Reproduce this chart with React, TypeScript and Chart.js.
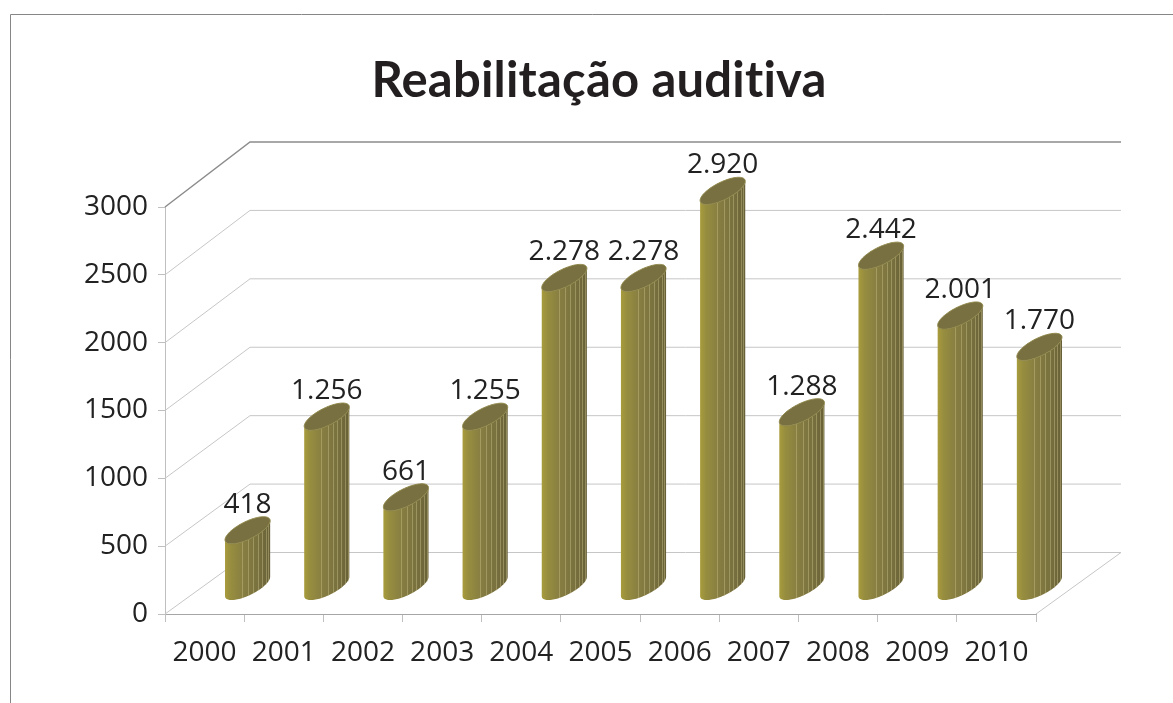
import { useEffect, useRef } from 'react';
import { Chart, registerables } from 'chart.js';

Chart.register(...registerables);

const TITLE = 'Reabilitação auditiva';
const YEARS = ['2000', '2001', '2002', '2003', '2004', '2005', '2006', '2007', '2008', '2009', '2010'];
const VALUES = [418, 1256, 661, 1255, 2278, 2278, 2920, 1288, 2442, 2001, 1770];
const Y_MIN = 0;
const Y_MAX = 3000;
const Y_STEP = 500;

const fmt = (v: number) =>
  v >= 1000 ? `${Math.floor(v / 1000)}.${String(v % 1000).padStart(3, '0')}` : String(v);

const DEPTH_X = 85;
const BACK_TOP_DY = -65;
const BACK_BOT_DY = -61.5;
const BAR_DX = 43;
const BAR_DY = -27;
const STRIPES = [0.38, 0.52, 0.63, 0.73, 0.82, 0.9, 0.96];

function drawCylinder(ctx: CanvasRenderingContext2D, cx: number, yTop: number, yBot: number, S: number) {
  const r = S / Math.SQRT2;
  const p = S / Math.SQRT2;
  const q = p * 0.85;
  const ts = Math.atan2(p, r);
  const pt = (t: number, y0: number): [number, number] => [
    cx + r * Math.cos(t) + p * Math.sin(t),
    y0 - q * Math.sin(t),
  ];
  const N = 48;
  ctx.beginPath();
  for (let i = 0; i <= N; i++) {
    const [x, y] = pt(Math.PI + ts + (Math.PI * i) / N, yTop);
    if (i === 0) ctx.moveTo(x, y);
    else ctx.lineTo(x, y);
  }
  for (let i = N; i >= 0; i--) {
    const [x, y] = pt(Math.PI + ts + (Math.PI * i) / N, yBot);
    ctx.lineTo(x, y);
  }
  ctx.closePath();
  const g = ctx.createLinearGradient(cx - S, 0, cx + S, 0);
  g.addColorStop(0, '#a89c3c');
  g.addColorStop(0.12, '#988e3f');
  g.addColorStop(0.4, '#877e42');
  g.addColorStop(0.75, '#78703e');
  g.addColorStop(1, '#676037');
  ctx.fillStyle = g;
  ctx.fill();
  ctx.strokeStyle = 'rgba(205,195,140,0.42)';
  ctx.lineWidth = 1;
  for (const u of STRIPES) {
    const phi = 2 * Math.PI - Math.acos(2 * u - 1);
    const t = phi + ts;
    const [x1, y1] = pt(t, yTop);
    const [, y2] = pt(t, yBot);
    ctx.beginPath();
    ctx.moveTo(Math.round(x1) + 0.5, y1);
    ctx.lineTo(Math.round(x1) + 0.5, y2);
    ctx.stroke();
  }
  ctx.beginPath();
  for (let i = 0; i <= 2 * N; i++) {
    const [x, y] = pt((Math.PI * i) / N, yTop);
    if (i === 0) ctx.moveTo(x, y);
    else ctx.lineTo(x, y);
  }
  ctx.closePath();
  ctx.fillStyle = '#787040';
  ctx.fill();
  ctx.strokeStyle = '#8e8648';
  ctx.lineWidth = 1;
  ctx.stroke();
}

const scene3d = {
  id: 'scene3d',
  beforeDatasetsDraw(chart: any) {
    const { ctx, chartArea } = chart;
    const { left, right, top, bottom } = chartArea;
    const ys = chart.scales.y;
    const backTop = top + BACK_TOP_DY;
    const backBot = bottom + BACK_BOT_DY;
    ctx.save();
    for (const t of ys.ticks) {
      const fy = ys.getPixelForValue(t.value);
      const by = backTop + ((fy - top) / (bottom - top)) * (backBot - backTop);
      const isTop = t.value === Y_MAX;
      ctx.strokeStyle = isTop ? '#8c8c8c' : '#c6c6c6';
      ctx.lineWidth = isTop ? 1.5 : 1;
      ctx.beginPath();
      ctx.moveTo(left, fy);
      ctx.lineTo(left + DEPTH_X, by);
      ctx.lineTo(right + DEPTH_X, by);
      if (t.value === Y_MIN) ctx.lineTo(right, bottom);
      ctx.stroke();
    }
    ctx.restore();
  },
  afterDatasetsDraw(chart: any) {
    const { ctx } = chart;
    const meta = chart.getDatasetMeta(0);
    ctx.save();
    meta.data.forEach((el: any, i: number) => {
      const { x, y, base, width } = el.getProps(['x', 'y', 'base', 'width'], true);
      const cx = x + BAR_DX;
      const yTop = y + BAR_DY;
      const yBot = base + BAR_DY;
      const S = width / 2;
      drawCylinder(ctx, cx, yTop, yBot, S);
      const q = (S / Math.SQRT2) * 0.85;
      ctx.fillStyle = '#222222';
      ctx.font = '28px "Open Sans"';
      ctx.textAlign = 'center';
      ctx.textBaseline = 'alphabetic';
      ctx.fillText(fmt(VALUES[i]), cx, yTop - q - 4);
    });
    ctx.restore();
  },
  afterDraw(chart: any) {
    const { ctx, width, height } = chart;
    ctx.save();
    ctx.strokeStyle = '#868686';
    ctx.lineWidth = 1;
    ctx.beginPath();
    ctx.moveTo(10.5, height + 2);
    ctx.lineTo(10.5, 14.5);
    ctx.lineTo(width + 2, 14.5);
    ctx.stroke();
    ctx.fillStyle = '#231f20';
    ctx.font = 'bold 49px Lato';
    (ctx as any).letterSpacing = '0.2px';
    ctx.textAlign = 'center';
    ctx.textBaseline = 'alphabetic';
    ctx.fillText(TITLE, 599, 97);
    ctx.restore();
  },
};

export default function App() {
  const ref = useRef<HTMLCanvasElement | null>(null);
  useEffect(() => {
    if (!ref.current) return;
    const chart = new Chart(ref.current, {
      type: 'bar',
      data: {
        labels: YEARS,
        datasets: [
          {
            data: VALUES,
            backgroundColor: 'rgba(0,0,0,0)',
            borderWidth: 0,
            barPercentage: 0.57,
            categoryPercentage: 1,
          },
        ],
      },
      options: {
        responsive: false,
        animation: false,
        layout: { padding: { left: 0, top: 207, right: 137, bottom: 29 } },
        plugins: {
          legend: { display: false },
          title: { display: false },
          tooltip: { enabled: false },
        },
        scales: {
          x: {
            grid: { drawOnChartArea: false, drawTicks: true, tickLength: 8, color: '#bfbfbf', offset: true },
            border: { color: '#a6a6a6' },
            ticks: { font: { family: '"Open Sans"', size: 28 }, color: '#222222', padding: 14, maxRotation: 0, autoSkip: false },
            afterFit: (s: any) => {
              s.height = 60;
            },
          },
          y: {
            min: Y_MIN,
            max: Y_MAX,
            ticks: {
              stepSize: Y_STEP,
              font: { family: '"Open Sans"', size: 28 },
              color: '#222222',
              padding: 10,
              callback: (v: any) => String(v),
            },
            grid: { drawOnChartArea: false, drawTicks: true, tickLength: 7, color: '#bfbfbf' },
            border: { color: '#bfbfbf' },
            afterFit: (s: any) => {
              s.width = 165;
            },
          },
        },
      },
      plugins: [scene3d],
    });
    return () => chart.destroy();
  }, []);
  return (
    <div style={{ position: 'absolute', left: 0, top: 0, width: 1173, height: 703, background: '#fff' }}>
      <canvas ref={ref} width={1173} height={703} style={{ display: 'block' }} />
    </div>
  );
}
